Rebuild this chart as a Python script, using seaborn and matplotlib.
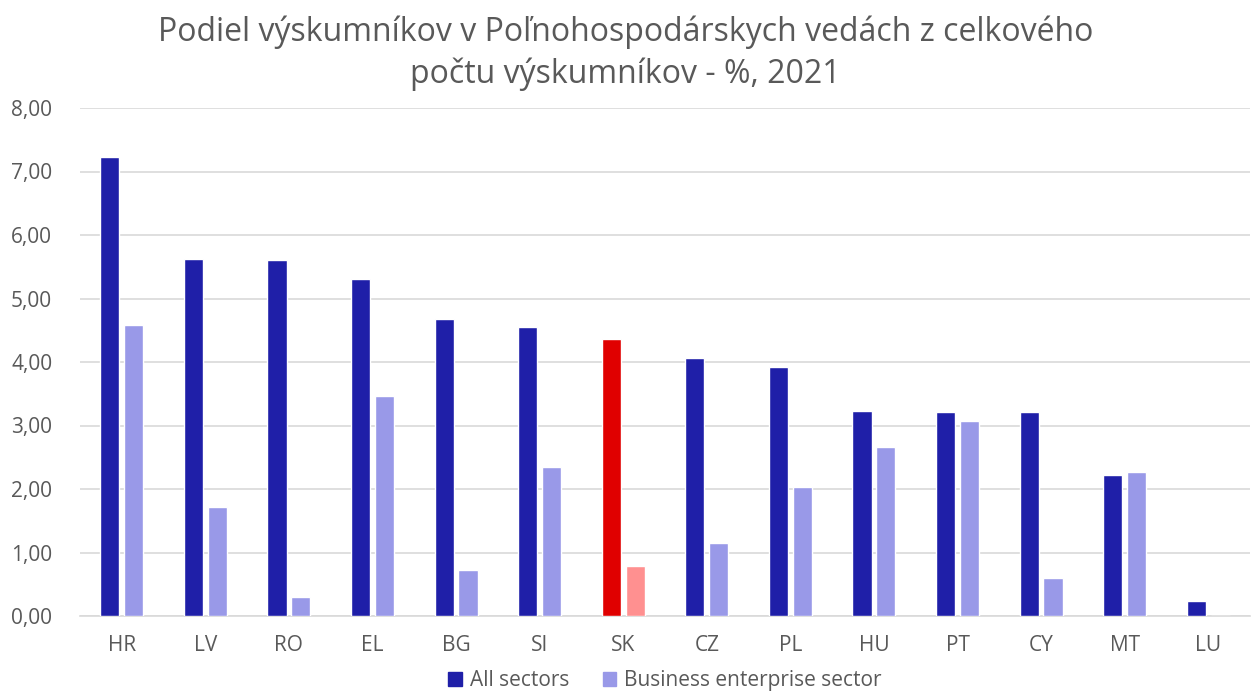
import numpy as np
import pandas as pd
import matplotlib
matplotlib.use("Agg")
import matplotlib.pyplot as plt
import seaborn as sns

countries = ["HR", "LV", "RO", "EL", "BG", "SI", "SK", "CZ", "PL", "HU", "PT", "CY", "MT", "LU"]
all_sectors = [7.23, 5.62, 5.60, 5.30, 4.67, 4.55, 4.37, 4.07, 3.92, 3.23, 3.21, 3.21, 2.22, 0.23]
business = [4.58, 1.72, 0.30, 3.47, 0.73, 2.34, 0.78, 1.15, 2.03, 2.66, 3.07, 0.60, 2.26, 0.0]
series = ["All sectors", "Business enterprise sector"]

DARK, LIGHT = "#1F1FA8", "#9999E8"
RED, PINK = "#E00000", "#FF9090"

df = pd.DataFrame({
    "country": countries * 2,
    "value": all_sectors + business,
    "series": [series[0]] * len(countries) + [series[1]] * len(countries),
})

sns.set_theme(style="white")
plt.rcParams["font.family"] = ["Open Sans", "DejaVu Sans"]

fig = plt.figure(figsize=(12.51, 6.98), dpi=100)
ax = fig.add_axes([80 / 1251, 1 - 616 / 698, 1170 / 1251, 508 / 698])

sns.barplot(data=df, x="country", y="value", hue="series", order=countries,
            hue_order=series, palette=[DARK, LIGHT], width=0.57, gap=0.2,
            saturation=1, ax=ax, zorder=3)

# highlight Slovakia
sk = countries.index("SK")
for cont, col in zip(ax.containers, [RED, PINK]):
    cont.patches[sk].set_facecolor(col)

ax.set_xlim(-0.5, len(countries) - 0.5)
ax.set_ylim(0, 8)
ax.set_yticks(np.arange(0, 9, 1))
ax.set_yticklabels([f"{v:.2f}".replace(".", ",") for v in np.arange(0, 9, 1)])
ax.grid(axis="y", color="#D9D9D9", linewidth=1.2, zorder=0)
for s in ["top", "right", "left"]:
    ax.spines[s].set_visible(False)
ax.spines["bottom"].set_color("#D9D9D9")
ax.spines["bottom"].set_linewidth(1.2)
ax.tick_params(axis="both", colors="#595959", labelsize=15, length=0)
ax.tick_params(axis="x", pad=14)
ax.tick_params(axis="y", pad=20)
ax.set_xlabel("")
ax.set_ylabel("")

fig.suptitle("Podiel výskumníkov v Poľnohospodárskych vedách z celkového\npočtu výskumníkov - %, 2021",
             y=0.978, fontsize=23, color="#595959", linespacing=1.35)

handles = [plt.Rectangle((0, 0), 1, 1, color=DARK), plt.Rectangle((0, 0), 1, 1, color=LIGHT)]
ax.legend(handles, series, loc="lower center", bbox_to_anchor=(0.5, -0.148), ncol=2,
          frameon=False, fontsize=15, labelcolor="#595959", handlelength=0.65,
          handleheight=0.65, columnspacing=1.6, handletextpad=0.4, borderaxespad=0,
          borderpad=0)

fig.savefig("out.png", dpi=100)
